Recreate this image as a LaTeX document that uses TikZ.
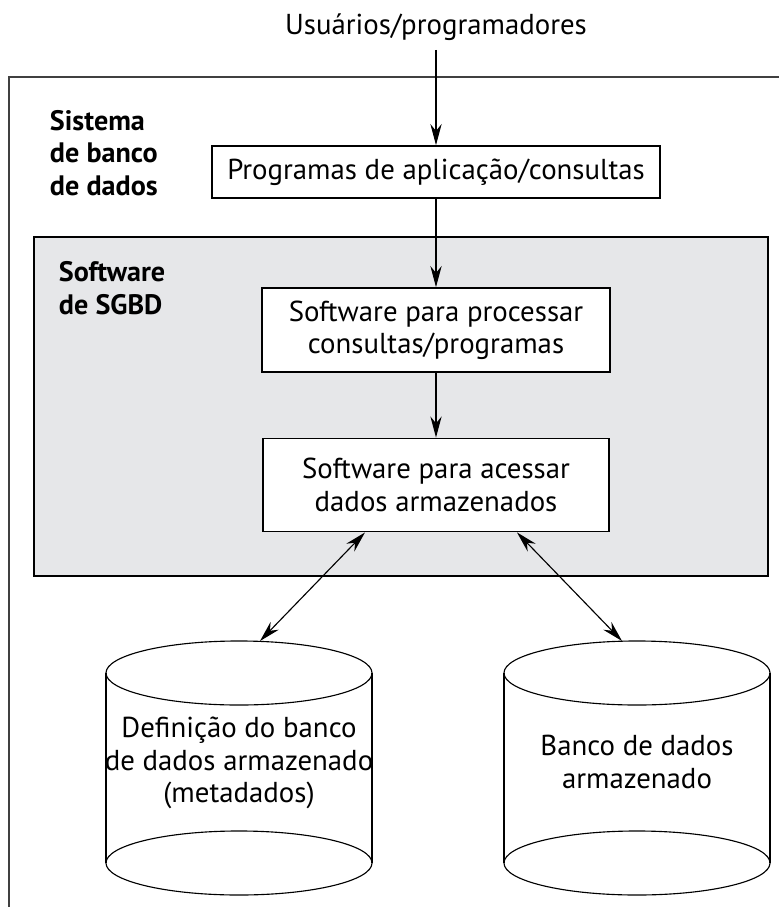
\documentclass[tikz,border=0pt]{standalone}
\usepackage{fontspec}
\setmainfont{PT Sans}
\usetikzlibrary{arrows.meta}
\definecolor{cinzaSGBD}{RGB}{230,231,233}

\begin{document}
\begin{tikzpicture}[x=0.025cm,y=-0.025cm,
    caixa/.style={draw,fill=white,line width=1.2pt,align=center,font=\fontsize{20.5}{23}\selectfont},
    rotulo/.style={anchor=west,align=left,font=\bfseries\fontsize{20}{23}\selectfont},
    seta/.style={-{Stealth[length=15pt,width=8pt]},line width=0.8pt}]
      % pixel coordinates of the reference, y going down
      \useasboundingbox (0,0) rectangle (779,907);
      \draw[line width=1.3pt,black!75] (9,907)--(9,77)--(779,77);
      \draw[fill=cinzaSGBD,line width=1.2pt] (34,237) rectangle (768,576);
      \node[font=\fontsize{20.5}{23}\selectfont] (usuarios) at (436,27) {Usuários/programadores};
      \coordinate (inicio) at (436,50);
      \node[rotulo] (sistema) at (45,153) {Sistema\\de banco\\de dados};
      \node[rotulo] (sgbd) at (54,288) {Software\\de SGBD};
      \node[caixa,minimum width=11.2cm,minimum height=1.3cm] (aplicacao) at (436,172) {Programas de aplicação/consultas};
      \node[caixa,minimum width=8.7cm,minimum height=2.1cm] (processar) at (436,330) {Software para processar\\consultas/programas};
      \node[caixa,minimum width=8.65cm,minimum height=2.33cm] (acessar) at (436,485) {Software para acessar\\dados armazenados};
      \draw[seta] (inicio)--(aplicacao.north);
      \draw[seta] (aplicacao)--(processar);
      \draw[seta] (processar)--(acessar);
      % the two stored data cylinders
      \foreach \cx in {239,637} {
        \draw[line width=0.8pt] (\cx-133,673)--(\cx-133,863) (\cx+133,673)--(\cx+133,863);
        \draw[line width=0.8pt] (\cx,673) ellipse [x radius=3.325cm,y radius=0.8cm];
        \draw[line width=0.8pt] (\cx,863) ellipse [x radius=3.325cm,y radius=0.8cm];
      }
      \node[align=center,font=\fontsize{20.5}{23}\selectfont] (metadados) at (239,763) {Definição do banco\\de dados armazenado\\(metadados)};
      \node[align=center,font=\fontsize{20.5}{23}\selectfont] (banco) at (637,762) {Banco de dados\\armazenado};
      \coordinate (topoA) at (260,641);
      \coordinate (topoB) at (622,641);
      \draw[seta,{Stealth[length=15pt,width=8pt]}-{Stealth[length=15pt,width=8pt]}] ([xshift=-1.775cm]acessar.south)--(topoA);
      \draw[seta,{Stealth[length=15pt,width=8pt]}-{Stealth[length=15pt,width=8pt]}] ([xshift=2.025cm]acessar.south)--(topoB);
    \end{tikzpicture}
\end{document}
